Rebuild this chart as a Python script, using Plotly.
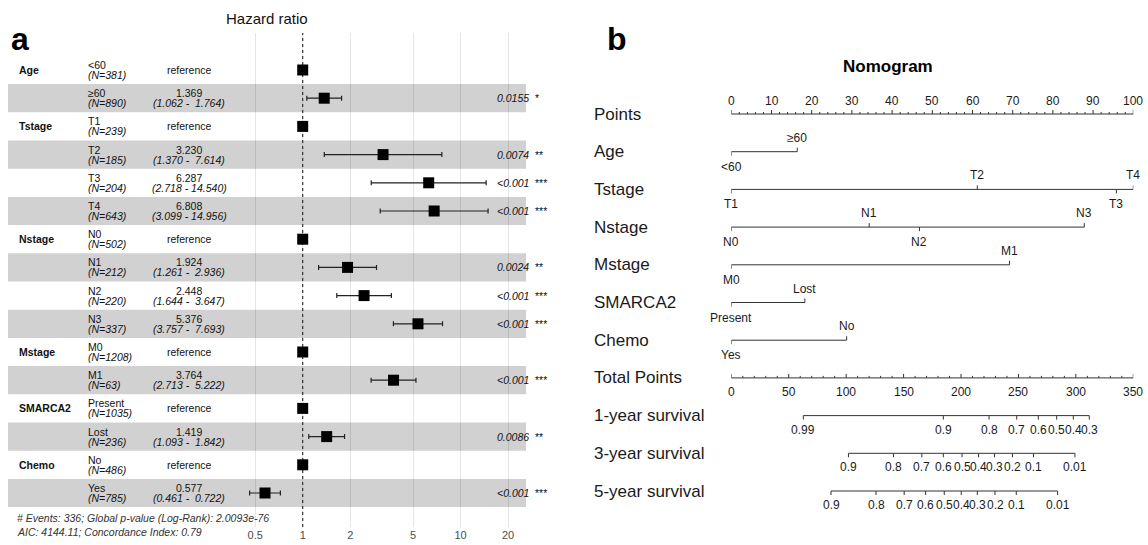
import numpy as np
import plotly.graph_objects as go

W, H = 1148, 545
FONT = "Liberation Sans, Arial, sans-serif"

# ---------------- panel a : forest plot data ----------------
groups = ["Age", "", "Tstage", "", "", "", "Nstage", "", "", "", "Mstage", "", "SMARCA2", "", "Chemo", ""]
levels = ["<60", "≥60", "T1", "T2", "T3", "T4", "N0", "N1", "N2", "N3", "M0", "M1", "Present", "Lost", "No", "Yes"]
n_counts = [381, 890, 239, 185, 204, 643, 502, 212, 220, 337, 1208, 63, 1035, 236, 486, 785]
hr = [1, 1.369, 1, 3.230, 6.287, 6.808, 1, 1.924, 2.448, 5.376, 1, 3.764, 1, 1.419, 1, 0.577]
hr_lo = [None, 1.062, None, 1.370, 2.718, 3.099, None, 1.261, 1.644, 3.757, None, 2.713, None, 1.093, None, 0.461]
hr_hi = [None, 1.764, None, 7.614, 14.540, 14.956, None, 2.936, 3.647, 7.693, None, 5.222, None, 1.842, None, 0.722]
p_text = ["", "0.0155", "", "0.0074", "<0.001", "<0.001", "", "0.0024", "<0.001", "<0.001", "", "<0.001", "", "0.0086", "", "<0.001"]
p_stars = ["", "*", "", "**", "***", "***", "", "**", "***", "***", "", "***", "", "**", "", "***"]
hr_ticks = [0.5, 1, 2, 5, 10, 20]
hr_ticktext = ["0.5", "1", "2", "5", "10", "20"]
REF_HR = 1
footnotes = ["# Events: 336; Global p-value (Log-Rank): 2.0093e-76",
             "AIC: 4144.11; Concordance Index: 0.79"]

# ---------------- panel b : nomogram data ----------------
nomo_vars = ["Age", "Tstage", "Nstage", "Mstage", "SMARCA2", "Chemo"]
nomo_levels = [["<60", "≥60"], ["T1", "T2", "T3", "T4"], ["N0", "N1", "N2", "N3"],
               ["M0", "M1"], ["Present", "Lost"], ["Yes", "No"]]
nomo_points = [[0, 16.4], [0, 61.2, 95.8, 100], [0, 34.3, 46.8, 87.8],
               [0, 69.2], [0, 18.3], [0, 28.7]]
points_max = 100
total_max = 350
surv_names = ["1-year survival", "3-year survival", "5-year survival"]
surv_ticklabels = [
    ["0.99", "0.9", "0.8", "0.7", "0.6", "0.5", "0.4", "0.3"],
    ["0.9", "0.8", "0.7", "0.6", "0.5", "0.4", "0.3", "0.2", "0.1", "0.01"],
    ["0.9", "0.8", "0.7", "0.6", "0.5", "0.4", "0.3", "0.2", "0.1", "0.01"],
]
surv_positions = [
    [62.7, 184.6, 224.4, 248.5, 267.3, 283.3, 297.8, 311.7],
    [102.0, 141.2, 165.9, 184.6, 200.9, 215.3, 229.1, 244.8, 263.1, 299.2],
    [86.8, 126.0, 150.5, 169.2, 185.4, 200.2, 214.2, 229.6, 248.1, 284.1],
]

# ---------------- layout geometry (pixels) ----------------
F_ROW0, F_STEP = 70.0, 28.2          # forest rows
F_TOP, F_BOT = 33.0, 527.0
F_LEFT, F_RIGHT = 8.0, 526.0
X_ONE, DECADE = 302.7, 157.8          # px of HR=1, px per log10 decade
N_ROW0, N_STEP = 114.0, 37.7          # nomogram rows
N_X0, N_X1 = 731.3, 1133.3
LINE_C = "#333333"

fig = go.Figure()

f_range_y = [(F_BOT - F_ROW0) / F_STEP, (F_TOP - F_ROW0) / F_STEP]
f_range_x = [(F_LEFT - X_ONE) / DECADE, (F_RIGHT - X_ONE) / DECADE]
nrows = len(levels)
rows = list(range(nrows))

shapes = []
for i in rows:
    if i % 2 == 1:
        shapes.append(dict(type="rect", xref="paper", yref="y", x0=F_LEFT / W, x1=F_RIGHT / W,
                           y0=i - 0.5, y1=i + 0.5, fillcolor="#d1d1d1", line=dict(width=0), layer="below"))

# dotted reference line
fig.add_trace(go.Scatter(x=[REF_HR, REF_HR], y=f_range_y, mode="lines", xaxis="x", yaxis="y",
                         line=dict(color="#333333", width=1.2, dash="dot"), hoverinfo="skip", showlegend=False))

err_plus = [((hi - h) if hi is not None else 0) for h, hi in zip(hr, hr_hi)]
err_minus = [((h - lo) if lo is not None else 0) for h, lo in zip(hr, hr_lo)]
fig.add_trace(go.Scatter(
    x=hr, y=rows, mode="markers", xaxis="x", yaxis="y",
    marker=dict(symbol="square", size=11, color="black", line=dict(width=0)),
    error_x=dict(type="data", array=err_plus, arrayminus=err_minus, color="#222222",
                 thickness=1.2, width=2.5),
    hoverinfo="skip", showlegend=False))

ann = []
def A(text, x, y, xref="paper", yref="paper", size=10.5, color="#111111", xanchor="center",
      yshift=0, bold=False, italic=False):
    if bold:
        text = "<b>" + text + "</b>"
    if italic:
        text = "<i>" + text + "</i>"
    ann.append(dict(text=text, x=x, y=y, xref=xref, yref=yref, showarrow=False,
                    xanchor=xanchor, yanchor="middle", yshift=yshift,
                    font=dict(family=FONT, size=size, color=color)))

def fmt_ci(lo, hi):
    return ("(%.3f - %6.3f)" % (lo, hi)).replace(" ", "\u00a0")

for i in rows:
    if groups[i]:
        A(groups[i], 17 / W, i, yref="y", bold=True, xanchor="left")
    A(levels[i], 86 / W, i, yref="y", xanchor="left", yshift=5)
    A("(N=%d)" % n_counts[i], 86 / W, i, yref="y", xanchor="left", yshift=-5, italic=True)
    if hr_lo[i] is None:
        A("reference", 189 / W, i, yref="y")
    else:
        A("%.3f" % hr[i], 189 / W, i, yref="y", yshift=5)
        A(fmt_ci(hr_lo[i], hr_hi[i]), 189 / W, i, yref="y", yshift=-5, italic=True)
    if p_text[i]:
        A(p_text[i], 531 / W, i, yref="y", xanchor="right", italic=True)
        A(p_stars[i], 533 / W, i, yref="y", xanchor="left", color="#111111")

A("Hazard ratio", 267 / W, 1 - 18 / H, size=15)
A("a", 20 / W, 1 - 39 / H, size=32, bold=True, color="black")
A(footnotes[0], 15 / W, 1 - 518 / H, size=10.5, xanchor="left", italic=True, color="#333333")
A(footnotes[1], 15 / W, 1 - 532 / H, size=10.5, xanchor="left", italic=True, color="#333333")

# ---------------- nomogram ----------------
def seg_trace(pairs, xaxis):
    xs, ys = [], []
    for (xa, ya, xb, yb) in pairs:
        xs += [xa, xb, None]
        ys += [ya, yb, None]
    fig.add_trace(go.Scatter(x=xs, y=ys, mode="lines", xaxis=xaxis, yaxis="y2",
                             line=dict(color=LINE_C, width=1), hoverinfo="skip", showlegend=False))

def tl(px):
    return px / N_STEP

row_labels = ["Points"] + nomo_vars + ["Total Points"] + surv_names
for r, lab in enumerate(row_labels):
    A(lab, 592 / W, r, yref="y2", size=17, xanchor="left", color="#1a1a1a")

TICK_FS = 12
# Points scale (row 0)
segs = [(0, 0, points_max, 0)]
for v in np.arange(0, points_max + 0.1, 2):
    ln = 4 if v % 10 == 0 else 2
    segs.append((v, 0, v, -tl(ln)))
seg_trace(segs, "x2")
for v in range(0, points_max + 1, 10):
    A(str(v), v, 0, xref="x2", yref="y2", size=TICK_FS, yshift=13, color="#1a1a1a")

# variable rows
for k, (lvls, pts) in enumerate(zip(nomo_levels, nomo_points)):
    r = k + 1
    segs = [(min(pts), r, max(pts), r)]
    for j, (lv, p) in enumerate(zip(lvls, pts)):
        up = (j % 2 == 1)
        segs.append((p, r, p, r - tl(4) if up else r + tl(4)))
        A(lv, p, r, xref="x2", yref="y2", size=TICK_FS, yshift=14 if up else -15, color="#1a1a1a")
    seg_trace(segs, "x2")

# Total points (row 7)
r_tp = 1 + len(nomo_vars)
segs = [(0, r_tp, total_max, r_tp)]
for v in np.arange(0, total_max + 0.1, 10):
    ln = 4 if v % 50 == 0 else 2
    segs.append((v, r_tp, v, r_tp - tl(ln)))
seg_trace(segs, "x3")
for v in range(0, total_max + 1, 50):
    A(str(v), v, r_tp, xref="x3", yref="y2", size=TICK_FS, yshift=-14, color="#1a1a1a")

# survival rows
for s, (labs, pos) in enumerate(zip(surv_ticklabels, surv_positions)):
    r = r_tp + 1 + s
    segs = [(min(pos), r, max(pos), r)]
    for lab, p in zip(labs, pos):
        segs.append((p, r, p, r + tl(4)))
        A(lab, p, r, xref="x3", yref="y2", size=TICK_FS, yshift=-14, color="#1a1a1a")
    seg_trace(segs, "x3")

A("<b>Nomogram</b>", 888 / W, 1 - 66 / H, size=17, color="black")
A("b", 617 / W, 1 - 39 / H, size=32, bold=True, color="black")

n_range_y = [(H - N_ROW0) / N_STEP, (0 - N_ROW0) / N_STEP]

fig.update_layout(
    width=W, height=H, margin=dict(l=0, r=0, t=0, b=0),
    paper_bgcolor="white", plot_bgcolor="rgba(0,0,0,0)",
    font=dict(family=FONT),
    showlegend=False,
    xaxis=dict(type="log", domain=[F_LEFT / W, F_RIGHT / W], range=f_range_x, anchor="y",
               tickvals=hr_ticks, ticktext=hr_ticktext, showgrid=True, gridcolor="rgba(0,0,0,0.10)",
               gridwidth=1, zeroline=False, showline=False, ticks="",
               tickfont=dict(family=FONT, size=11, color="#4d4d4d")),
    yaxis=dict(domain=[1 - F_BOT / H, 1 - F_TOP / H], range=f_range_y, anchor="x",
               visible=False, showgrid=False, zeroline=False),
    xaxis2=dict(domain=[N_X0 / W, N_X1 / W], range=[0, points_max], anchor="y2", visible=False),
    xaxis3=dict(domain=[N_X0 / W, N_X1 / W], range=[0, total_max], anchor="y2", overlaying="x2",
                visible=False),
    yaxis2=dict(domain=[0, 1], range=n_range_y, anchor="x2", visible=False),
    shapes=shapes,
    annotations=ann,
)

fig.write_html("out.html", config={"displayModeBar": False},
               post_script="document.body.style.margin='0';document.body.style.overflow='hidden';")
